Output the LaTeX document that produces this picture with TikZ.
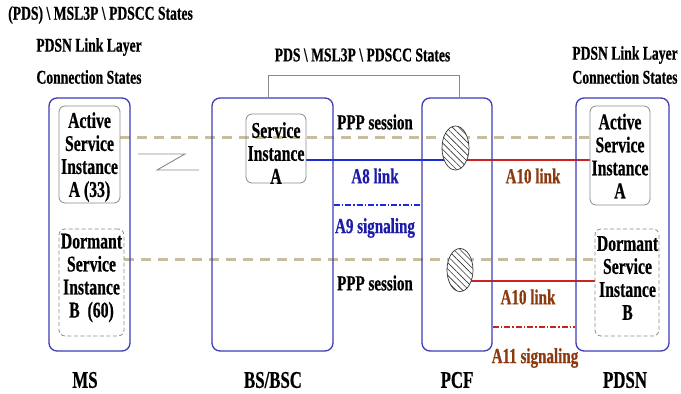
\documentclass[tikz,border=0pt]{standalone}
\usepackage{fontspec}
\setmainfont[FakeStretch=0.7, BoldFeatures={FakeBold=0.6}]{Liberation Serif}
\usetikzlibrary{shapes.geometric,patterns.meta,backgrounds}
\definecolor{boxblue}{HTML}{3C3CB4}
\definecolor{linkblue}{HTML}{1E2AD8}
\definecolor{txtblue}{HTML}{1C1CA8}
\definecolor{txtbrown}{HTML}{8B3A10}
\definecolor{linkred}{HTML}{CC2222}
\definecolor{tan}{HTML}{C9BD9F}
\definecolor{ingray}{HTML}{8A8A8A}
\tikzset{
  outerbox/.style={draw=boxblue, line width=1.3pt, rounded corners=8pt, inner sep=0pt},
  innerbox/.style={draw=ingray, line width=0.8pt, rounded corners=6pt, inner sep=0pt},
  innerdash/.style={innerbox, dash pattern=on 4pt off 2.5pt},
  intext/.style={font=\bfseries\fontsize{22.5}{23}\selectfont, align=center, inner sep=0pt},
  lbl/.style={font=\bfseries\fontsize{21.5}{23}\selectfont, inner sep=0pt},
  hdr/.style={font=\bfseries\fontsize{19.5}{22}\selectfont, inner sep=0pt},
  bottom/.style={font=\bfseries\fontsize{24}{26}\selectfont, inner sep=0pt},
  ppp/.style={draw=tan, line width=3pt, dash pattern=on 10pt off 7pt},
  a8/.style={draw=linkblue, line width=1.2pt},
  a10/.style={draw=linkred, line width=1.2pt},
  a9/.style={draw=linkblue, line width=1.2pt, dash pattern=on 6pt off 2pt on 1.5pt off 2pt},
  a11/.style={draw=linkred, line width=1.2pt, dash pattern=on 6pt off 2pt on 1.5pt off 2pt},
  bracket/.style={draw=ingray, line width=0.8pt},
  hatch/.style={ellipse, draw=black!80, line width=0.7pt, fill=white, inner sep=0pt,
    postaction={pattern={Lines[angle=-45,distance=4.5pt,line width=0.6pt]}, pattern color=black!80}},
}
\begin{document}
\begin{tikzpicture}[x=1pt,y=-1pt]
\useasboundingbox (0,0) rectangle (681,394);

% headers
\node[hdr, anchor=west] (h1) at (8,15) {(PDS) \textbackslash\ MSL3P \textbackslash\ PDSCC States};
\node[hdr] (h2) at (89,47) {PDSN Link Layer};
\node[hdr] (h3) at (89,77) {Connection States};
\node[hdr] (h4) at (362.5,55) {PDS \textbackslash\ MSL3P \textbackslash\ PDSCC States};
\node[hdr] (h5) at (625,55) {PDSN Link Layer};
\node[hdr] (h6) at (625,77) {Connection States};

% outer boxes
\node[outerbox, minimum width=81pt, minimum height=253pt] (ms) at (89.5,224.5) {};
\node[outerbox, minimum width=121pt, minimum height=253pt] (bsc) at (272.5,224.5) {};
\node[outerbox, minimum width=70pt, minimum height=253pt] (pcf) at (457,224.5) {};
\node[outerbox, minimum width=93pt, minimum height=253pt] (pdsn) at (622.5,224.5) {};

% inner boxes
\node[innerbox, minimum width=61pt, minimum height=97pt] (msA) at (89.5,154.5) {};
\node[innerdash, minimum width=65pt, minimum height=107pt] (msB) at (91.5,282.5) {};
\node[innerbox, minimum width=60pt, minimum height=69pt] (bsA) at (276,148.5) {};
\node[innerbox, minimum width=60pt, minimum height=99pt] (pdA) at (620,155.5) {};
\node[innerdash, minimum width=64pt, minimum height=107pt] (pdB) at (627,282.5) {};

\node[intext] (tmsA) at (89.5,157) {Active\\Service\\Instance\\A (33)};
\node[intext] (tmsB) at (91.5,278) {Dormant\\Service\\Instance\\B\ \ (60)};
\node[intext] (tbsA) at (276,153) {Service\\Instance\\A};
\node[intext] (tpdA) at (620,156) {Active\\Service\\Instance\\A};
\node[intext] (tpdB) at (627.5,278) {Dormant\\Service\\Instance\\B};

% ellipses
\node[hatch, minimum width=27pt, minimum height=44pt] (e1) at (455.5,148) {};
\node[hatch, minimum width=26pt, minimum height=43pt] (e2) at (460,270) {};

% connectors (behind)
\begin{pgfonlayer}{background}
\draw[ppp] (msA.east |- 0,137) -- (pdA.west |- 0,137);
\draw[ppp] (msB.east |- 0,259) -- (pdB.west |- 0,259);
\draw[a8] (bsA.east |- 0,160) -- (e1.center |- 0,160);
\draw[a10] (e1.center |- 0,160) -- (pdA.west |- 0,160);
\draw[a10] (e2.center |- 0,281) -- (pdB.west |- 0,281);
\draw[a9] (bsc.east |- 0,205) -- (pcf.west |- 0,205);
\draw[a11] (pcf.east |- 0,327) -- (pdsn.west |- 0,327);
\draw[bracket] ([xshift=-4.5pt]bsc.north) -- ++(0,-22) -| ([xshift=2pt]pcf.north);
\end{pgfonlayer}

% air link symbol
\draw[bracket, line width=0.9pt] (138,154) -- (185,154) -- (157,170) -- (199,170);

% labels
\node[lbl] (l1) at (375,122) {PPP session};
\node[lbl, text=txtblue] (l2) at (375,176) {A8 link};
\node[lbl, text=txtbrown] (l3) at (533,176) {A10 link};
\node[lbl, text=txtblue] (l4) at (375,228) {A9 signaling};
\node[lbl] (l5) at (375,283) {PPP session};
\node[lbl, text=txtbrown] (l6) at (528,297) {A10 link};
\node[lbl, text=txtbrown] (l7) at (535,358) {A11 signaling};

% bottom labels
\node[bottom] (bms) at (85,380) {MS};
\node[bottom] (bbsc) at (273,380) {BS/BSC};
\node[bottom] (bpcf) at (457,380) {PCF};
\node[bottom] (bpdsn) at (625,380) {PDSN};
\end{tikzpicture}
\end{document}
